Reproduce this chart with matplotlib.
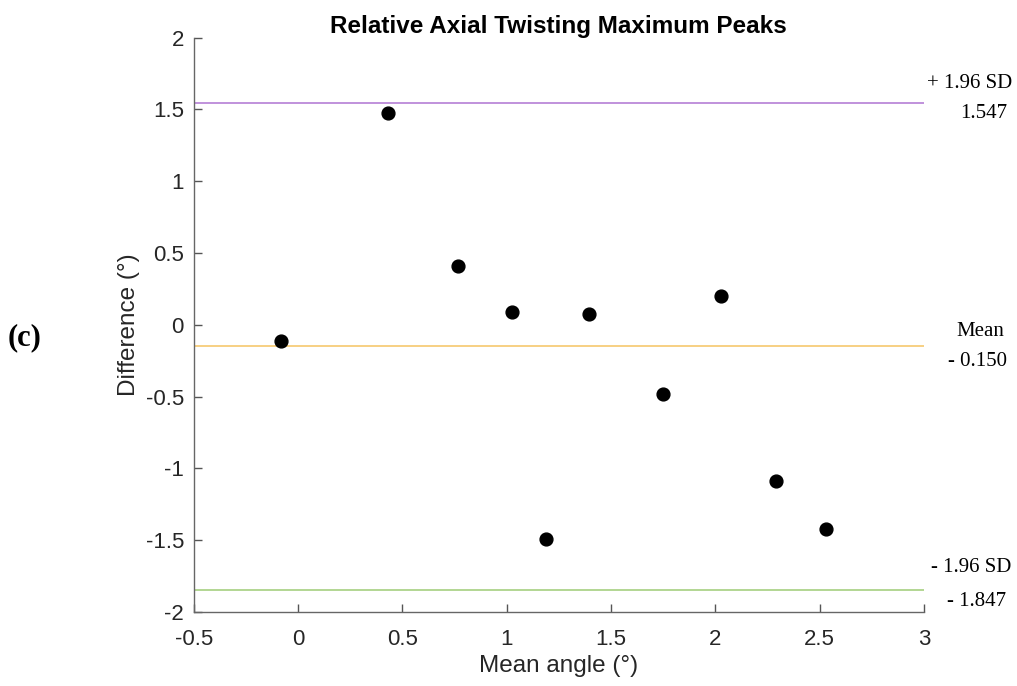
import matplotlib
matplotlib.use("Agg")
import matplotlib.pyplot as plt

# Data
mean_angle = [-0.08, 0.43, 0.767, 1.026, 1.19, 1.395, 1.75, 2.028, 2.292, 2.532]
difference = [-0.11, 1.477, 0.411, 0.09, -1.49, 0.077, -0.481, 0.202, -1.087, -1.422]
mean_diff = -0.150
upper_loa = 1.547
lower_loa = -1.847
x_ticks = [-0.5, 0, 0.5, 1, 1.5, 2, 2.5, 3]
y_ticks = [-2, -1.5, -1, -0.5, 0, 0.5, 1, 1.5, 2]

W, H = 1017, 686
fig = plt.figure(figsize=(W / 100, H / 100), dpi=100)
ax = fig.add_axes([193.7 / W, 1 - 612 / H, (924 - 193.7) / W, (612 - 37.7) / H])

sans = ["Liberation Sans", "DejaVu Sans"]
serif = ["Liberation Serif", "DejaVu Serif"]

ax.axhline(upper_loa, color="#b57fd6", lw=1.2, zorder=1)
ax.axhline(mean_diff, color="#f6c86e", lw=1.2, zorder=1)
ax.axhline(lower_loa, color="#a6cf80", lw=1.2, zorder=1)
ax.scatter(mean_angle, difference, s=85, color="black", zorder=3)

ax.set_xlim(-0.5, 3)
ax.set_ylim(-2, 2)
ax.set_xticks(x_ticks)
ax.set_xticklabels([f"{v:g}" for v in x_ticks], family=sans, fontsize=16, color="#262626")
ax.set_yticks(y_ticks)
ax.set_yticklabels([f"{v:g}" for v in y_ticks], family=sans, fontsize=16, color="#262626")
ax.tick_params(direction="in", length=6, width=1, color="#555555")
ax.tick_params(axis="y", pad=7)
ax.tick_params(axis="x", pad=12)
for s in ["top", "right"]:
    ax.spines[s].set_visible(False)
for s in ["left", "bottom"]:
    ax.spines[s].set_color("#666666")
    ax.spines[s].set_linewidth(1)

ax.set_xlabel("Mean angle (°)", family=sans, fontsize=17.5, color="#262626", labelpad=4)
ax.set_ylabel("Difference (°)", family=sans, fontsize=17.5, color="#262626", labelpad=4)
ax.set_title("Relative Axial Twisting Maximum Peaks", family=sans, fontsize=17.5,
             fontweight="bold", pad=3)

def ftext(x, y, s, ha="right", **kw):
    fig.text(x / W, 1 - y / H, s, ha=ha, va="center", family=serif, fontsize=15, **kw)

ftext(1012, 84, "+ 1.96 SD")
ftext(1007, 113, f"{upper_loa:.3f}")
ftext(980, 331, "Mean", ha="center")
ftext(977, 361, f"- {abs(mean_diff):.3f}", ha="center")
ftext(1011, 568, "- 1.96 SD")
ftext(1006, 601, f"- {abs(lower_loa):.3f}")
fig.text(25 / W, 1 - 338 / H, "(c)", ha="center", va="center", family=serif,
         fontsize=22, fontweight="bold")

fig.savefig("out.png", dpi=100)
